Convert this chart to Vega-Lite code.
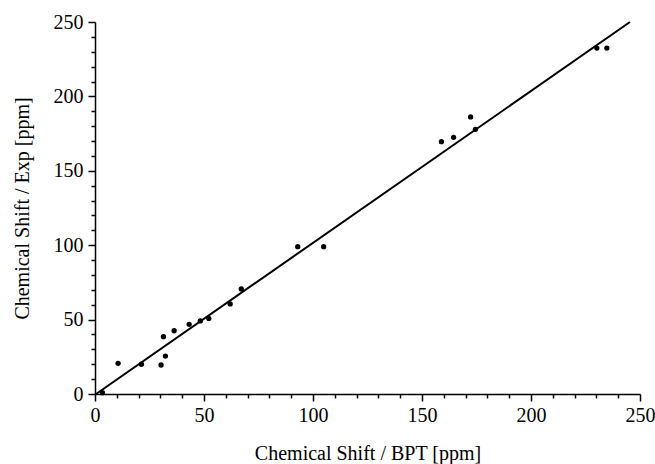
{
  "$schema": "https://vega.github.io/schema/vega-lite/v6.json",
  "autosize": {"type": "none"},
  "padding": {"left": 95, "top": 22, "right": 15, "bottom": 70},
  "width": 545,
  "height": 372,
  "background": "white",
  "config": {
    "view": {"stroke": null}
  },
  "datasets": {
    "points": [
      {"bpt": 3.4, "exp": 0.9},
      {"bpt": 10.6, "exp": 20.6},
      {"bpt": 21.3, "exp": 20.0},
      {"bpt": 30.3, "exp": 19.5},
      {"bpt": 31.4, "exp": 38.5},
      {"bpt": 32.3, "exp": 25.5},
      {"bpt": 36.3, "exp": 42.5},
      {"bpt": 43.2, "exp": 46.8},
      {"bpt": 48.3, "exp": 49.1},
      {"bpt": 52.2, "exp": 50.8},
      {"bpt": 62.0, "exp": 60.5},
      {"bpt": 67.1, "exp": 70.6},
      {"bpt": 93.0, "exp": 99.0},
      {"bpt": 104.9, "exp": 99.0},
      {"bpt": 158.9, "exp": 169.6},
      {"bpt": 164.5, "exp": 172.5},
      {"bpt": 172.3, "exp": 186.2},
      {"bpt": 174.5, "exp": 177.9},
      {"bpt": 230.2, "exp": 232.5},
      {"bpt": 234.8, "exp": 232.5}
    ],
    "fit": [
      {"bpt": 0.5, "exp": 0},
      {"bpt": 245.4, "exp": 250}
    ]
  },
  "encoding": {
    "x": {
      "field": "bpt", "type": "quantitative",
      "scale": {"domain": [0, 250], "nice": false, "zero": true},
      "axis": {
        "title": "Chemical Shift / BPT [ppm]",
        "values": [0,10,20,30,40,50,60,70,80,90,100,110,120,130,140,150,160,170,180,190,200,210,220,230,240,250],
        "labelExpr": "datum.value % 50 === 0 ? datum.label : ''",
        "tickSize": {"condition": {"test": "datum.value % 50 === 0", "value": 7}, "value": 4},
        "grid": false,
        "domainColor": "black",
        "domainWidth": 1.5,
        "tickColor": "black",
        "tickWidth": 1.5,
        "labelFont": "Liberation Serif",
        "titleFont": "Liberation Serif",
        "labelFontSize": 20,
        "titleFontSize": 20,
        "labelColor": "black",
        "titleColor": "black",
        "titleFontWeight": "normal",
        "labelPadding": 4,
        "titlePadding": 18,
        "labelFlush": false,
        "labelOverlap": false
      }
    },
    "y": {
      "field": "exp", "type": "quantitative",
      "scale": {"domain": [0, 250], "nice": false, "zero": true},
      "axis": {
        "title": "Chemical Shift / Exp [ppm]",
        "values": [0,10,20,30,40,50,60,70,80,90,100,110,120,130,140,150,160,170,180,190,200,210,220,230,240,250],
        "labelExpr": "datum.value % 50 === 0 ? datum.label : ''",
        "tickSize": {"condition": {"test": "datum.value % 50 === 0", "value": 7}, "value": 4},
        "grid": false,
        "domainColor": "black",
        "domainWidth": 1.5,
        "tickColor": "black",
        "tickWidth": 1.5,
        "labelFont": "Liberation Serif",
        "titleFont": "Liberation Serif",
        "labelFontSize": 20,
        "titleFontSize": 20,
        "labelColor": "black",
        "titleColor": "black",
        "titleFontWeight": "normal",
        "labelPadding": 5,
        "titlePadding": 21,
        "labelFlush": false,
        "labelOverlap": false
      }
    }
  },
  "layer": [
    {
      "data": {"name": "fit"},
      "mark": {"type": "line", "color": "black", "strokeWidth": 2}
    },
    {
      "data": {"name": "points"},
      "mark": {"type": "circle", "color": "black", "opacity": 1, "size": 28}
    }
  ]
}
